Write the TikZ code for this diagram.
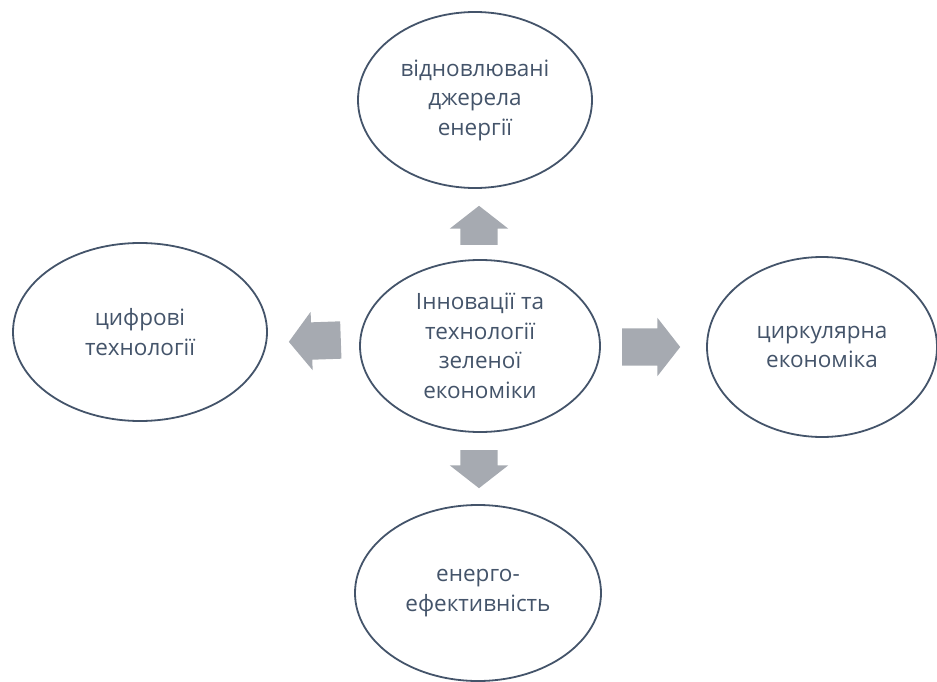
\documentclass[tikz,border=0pt]{standalone}
\usepackage{fontspec}
\setmainfont{Open Sans}
\usetikzlibrary{shapes.geometric, shapes.arrows}
\definecolor{textblue}{RGB}{68,84,106}
\definecolor{arrowgray}{RGB}{166,170,177}
\tikzset{
    bubble/.style={ellipse, draw=textblue, line width=1.8pt, fill=white, text=textblue,
        align=center, inner sep=0pt, font=\fontsize{22.5}{29.5}\selectfont},
    blockarrow/.style={single arrow, fill=arrowgray, draw=none, inner xsep=0pt,
        inner ysep=18.5pt, single arrow head extend=10.5pt, single arrow tip angle=104,
        anchor=tail}
}
\begin{document}
\begin{tikzpicture}[x=1pt, y=-1pt]
        \useasboundingbox (0, 0) rectangle (937, 682);

        %nodes
        \node[bubble, minimum width=240pt, minimum height=172pt] (green) at (480, 346) {Інновації та\\технології\\зеленої\\економіки};
        \node[bubble, minimum width=234pt, minimum height=176pt] (renew) at (475, 100) {відновлювані\\джерела\\енергії};
        \node[bubble, minimum width=254pt, minimum height=178pt] (digital) at (140, 332) {цифрові\\технології};
        \node[bubble, minimum width=230pt, minimum height=180pt] (circular) at (822, 347) {циркулярна\\економіка};
        \node[bubble, minimum width=246pt, minimum height=176pt] (effic) at (478, 593) {енерго-\\ефективність};

        %arrows
        \node[blockarrow, minimum height=39pt, rotate=90] (up) at (479, 245) {};
        \node[blockarrow, minimum height=52pt, rotate=182] (left) at (341, 340) {};
        \node[blockarrow, minimum height=58pt] (right) at (622, 347) {};
        \node[blockarrow, minimum height=38pt, rotate=-90] (down) at (479, 450) {};
    \end{tikzpicture}
\end{document}
